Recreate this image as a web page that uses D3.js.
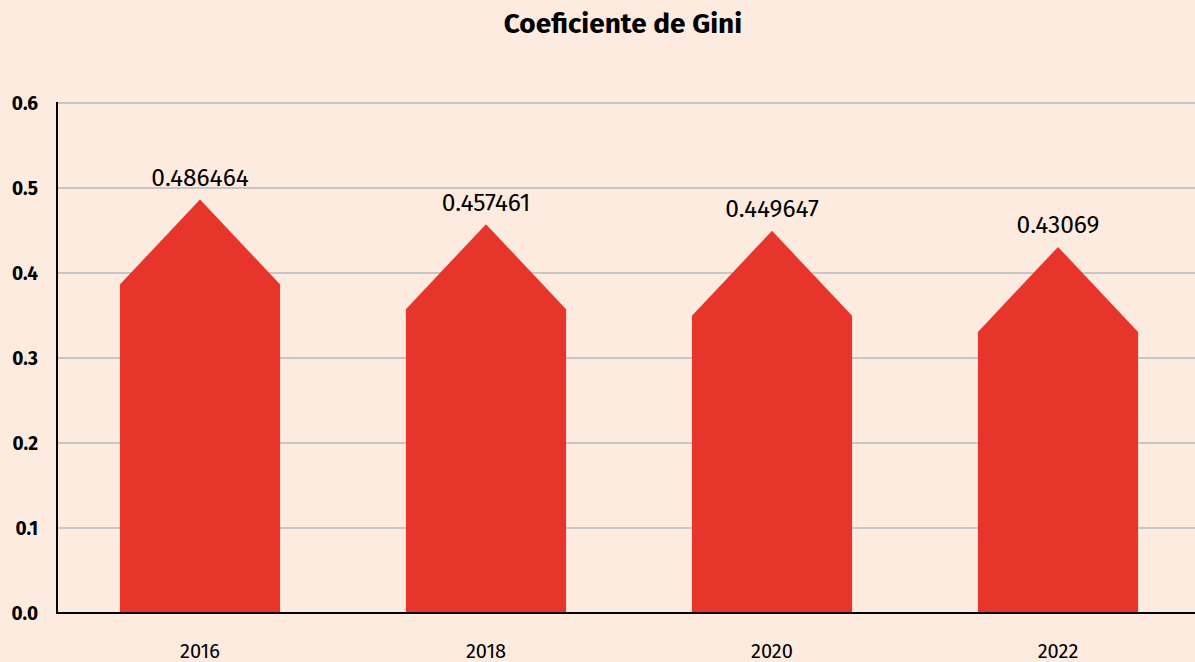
<!DOCTYPE html>
<html>
<head>
<meta charset="utf-8">
<script src="https://cdn.jsdelivr.net/npm/d3@7"></script>
<style>
  body { margin: 0; background: #fdebdf; }
  svg { display: block; font-family: "Fira Sans", "Noto Sans", sans-serif; }
</style>
</head>
<body>
<div class="chart"></div>
<script>
const years = ["2016", "2018", "2020", "2022"];
const gini = [0.486464, 0.457461, 0.449647, 0.43069];
const yTicks = [0, 0.1, 0.2, 0.3, 0.4, 0.5, 0.6];

const width = 1195, height = 662;
const margin = {top: 103, right: -6, bottom: 49, left: 57};

const svg = d3.select(".chart").append("svg")
  .attr("width", width)
  .attr("height", height);

svg.append("rect")
  .attr("width", width).attr("height", height)
  .attr("fill", "#fdebdf");

svg.append("text")
  .attr("x", 623)
  .attr("y", 33)
  .attr("text-anchor", "middle")
  .style("font-size", "28px")
  .style("font-weight", "bold")
  .text("Coeficiente de Gini");

const x = d3.scaleBand()
  .domain(years)
  .range([margin.left, width - margin.right])
  .paddingInner(0.44)
  .paddingOuter(0.22);

const y = d3.scaleLinear()
  .domain([0, 0.6])
  .range([height - margin.bottom, margin.top]);

// grid
svg.append("g")
  .selectAll("line")
  .data(yTicks.slice(1))
  .enter().append("line")
  .attr("x1", margin.left)
  .attr("x2", width)
  .attr("y1", d => y(d))
  .attr("y2", d => y(d))
  .attr("stroke", "#c8c6c4")
  .attr("stroke-width", 2);

// y labels
svg.append("g")
  .selectAll("text")
  .data(yTicks)
  .enter().append("text")
  .attr("x", 38)
  .attr("y", d => y(d))
  .attr("dy", "0.35em")
  .attr("text-anchor", "end")
  .style("font-size", "19px")
  .style("font-weight", "bold")
  .text(d => d3.format(".1f")(d));

// bars with pointed tops
const shoulder = 0.1;
svg.append("g")
  .selectAll("path")
  .data(gini)
  .enter().append("path")
  .attr("fill", "#e8352b")
  .attr("d", (d, i) => {
    const x0 = x(years[i]), x1 = x0 + x.bandwidth(), xm = x0 + x.bandwidth() / 2;
    return `M${x0},${y(0)}L${x0},${y(d - shoulder)}L${xm},${y(d)}L${x1},${y(d - shoulder)}L${x1},${y(0)}Z`;
  });

// value labels
svg.append("g")
  .selectAll("text")
  .data(gini)
  .enter().append("text")
  .attr("x", (d, i) => x(years[i]) + x.bandwidth() / 2)
  .attr("y", d => y(d) - 13.5)
  .attr("text-anchor", "middle")
  .style("font-size", "24.5px")
  .text(d => d);

// x labels
svg.append("g")
  .selectAll("text")
  .data(years)
  .enter().append("text")
  .attr("x", d => x(d) + x.bandwidth() / 2)
  .attr("y", 658)
  .attr("text-anchor", "middle")
  .style("font-size", "20px")
  .text(d => d);

// axes lines
svg.append("line")
  .attr("x1", margin.left).attr("x2", margin.left)
  .attr("y1", y(0.6) - 1).attr("y2", y(0) + 1)
  .attr("stroke", "#000").attr("stroke-width", 2);
svg.append("line")
  .attr("x1", margin.left - 1).attr("x2", width)
  .attr("y1", y(0)).attr("y2", y(0))
  .attr("stroke", "#000").attr("stroke-width", 2);
</script>
</body>
</html>
